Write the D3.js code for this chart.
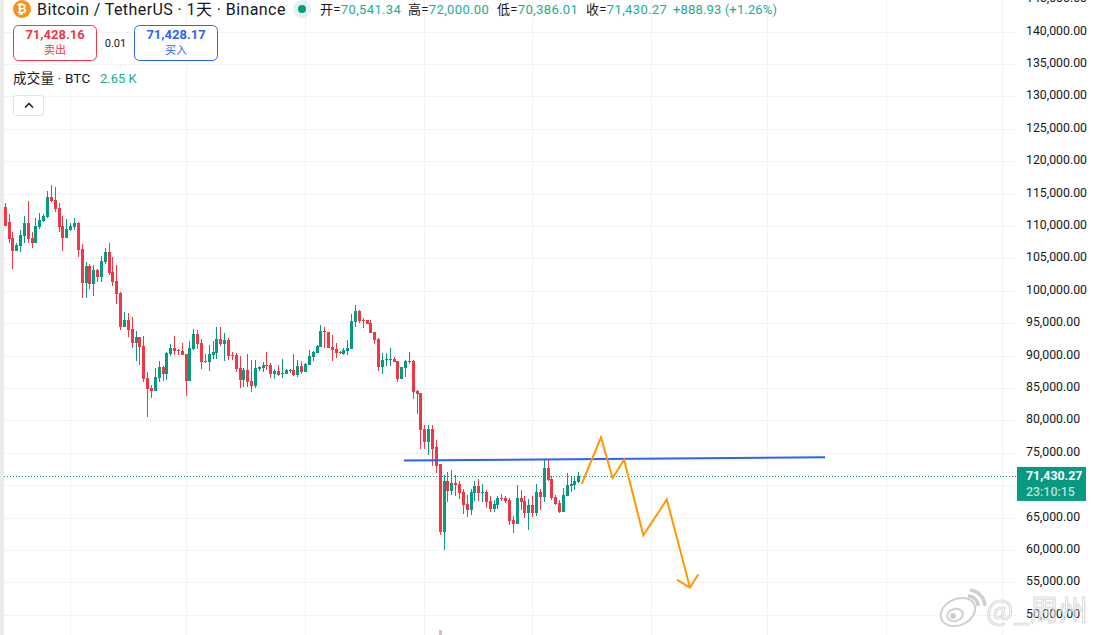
<!DOCTYPE html>
<html>
<head>
<meta charset="utf-8">
<script src="https://cdn.jsdelivr.net/npm/d3@7"></script>
<style>
  html, body { margin: 0; padding: 0; background: #fff; overflow: hidden; }
  svg { display: block; font-family: Roboto, "Noto Sans CJK SC", sans-serif; }
  .axis path { display: none; }
  .axis line { stroke: #f3f3f3; }
</style>
</head>
<body>
<div id="chart"></div>
<script>
// daily candles
var opens = [
  112950,110640,108180,106170,106940,108480,110490,108180,107400,109870,
  110790,111410,114490,114030,112800,110020,108180,109410,109870,110490,
  106480,101240,103860,101090,103240,102170,104480,106020,102940,101550,
  99700,94460,95540,94150,92000,92920,91530,86600,85060,84600,
  86600,88300,87220,90300,91230,90920,90760,90300,86140,91070,
  93380,92000,89220,89070,90150,90460,92610,91840,92460,90150,
  90150,88150,86300,87840,86140,85370,87990,88140,88610,88610,
  87220,87680,87220,87220,87630,87840,87070,88450,87530,88610,
  89840,90460,91380,93850,93690,91380,91070,90610,90300,90760,
  91070,95230,96930,95540,95540,95080,93690,92610,88300,89380,
  89380,89530,89220,86450,88140,89070,89220,84600,84290,78750,
  76740,78750,75820,73200,62770,70580,69040,70270,70120,68880,
  67040,66110,68730,69810,68730,68880,67500,66270,66880,67960,
  67960,67650,64570,63950,67960,67500,65650,66880,65650,68880,
  68110,72580,70890,68110,67190,65800,68270,69810,69960,70541.34
]
var highs = [
  113570,111870,109100,107400,109410,111560,113880,109100,111260,112030,
  111870,115420,116340,116030,113570,111560,111100,110490,111260,110640,
  107250,104480,104170,104020,103400,105400,106630,107400,105250,104020,
  99850,96770,96620,96000,93850,92920,93080,87530,85530,88150,
  89220,88450,90610,91840,93080,91070,92000,90300,92300,94150,
  94000,92610,90300,91690,92300,94460,94460,93540,92770,90610,
  90460,89990,88140,90300,89380,89380,88450,89070,90610,88910,
  87990,88610,89530,87990,87990,90300,89380,89220,88910,90920,
  90760,91690,94770,94460,93690,93230,92000,90760,91230,92460,
  96460,97850,97080,95850,95540,95540,93690,92770,90460,90460,
  91230,89840,89220,88300,89380,90610,89380,84750,84290,79360,
  79360,79360,76900,73300,71500,72020,72270,71500,70580,69350,
  68420,69350,70580,70890,70120,69190,68270,67650,68270,68580,
  68270,67960,65190,69960,69190,68270,67810,68270,70120,69350,
  73820,73820,71350,68420,67650,69500,71810,71350,71200,72000
]
var lows = [
  110020,107400,103400,106170,106020,107400,107400,106630,107400,109560,
  110640,111260,113720,112180,109100,106170,108180,109250,109410,105250,
  98930,98930,100320,99240,101400,101400,104170,102470,100780,98000,
  94000,94460,92920,91230,89220,88610,85990,80600,83520,84600,
  85990,86140,86300,89990,90150,90150,90150,83830,86140,90920,
  91070,87990,88920,87680,89530,89530,91530,89220,89380,89380,
  87530,85060,85220,85220,84450,85060,87680,87530,87840,86600,
  86450,86910,86600,87220,87370,86910,86760,87220,87530,88610,
  89220,90460,91380,91230,91230,89220,89690,90300,90150,90150,
  91070,94460,95080,94310,94920,93540,91840,87680,87220,88450,
  88450,89070,85990,86450,86760,88760,83370,81060,75660,75660,
  74590,72890,71810,62260,59950,67400,68420,68270,67810,65500,
  65030,65340,67500,67500,67340,66420,65800,65800,66270,67500,
  67190,63800,62570,63950,66110,64880,63030,65030,65190,66110,
  67340,70580,67650,66880,65650,65800,68270,68880,69190,70386.01
]
var closes = [
  110020,108020,106170,107100,108640,110490,108020,107400,110020,110950,
  111560,114490,113880,112640,109870,108180,109560,110020,110490,106330,
  101240,103860,101090,103240,102170,104630,106020,102780,101400,99550,
  94460,95540,94000,92000,92920,91380,86450,84910,84600,86760,
  88300,87220,90460,91230,90760,90760,90150,86140,91230,93380,
  91840,89070,89070,90300,90610,92610,91840,92460,89990,89990,
  87990,86300,87840,85990,85370,88140,88300,88610,88450,87220,
  87680,87070,87370,87840,87780,87070,88450,87530,88760,89990,
  90610,91530,93850,93690,91230,90920,90460,90460,90920,91230,
  95390,96930,95390,95390,94920,93540,92460,88300,89380,89530,
  89530,89070,86450,88300,89220,89220,84450,84140,78590,76740,
  78750,75660,73040,62770,70580,69040,70270,69960,68730,66880,
  66110,68880,69810,68730,68880,67340,66270,67040,67960,67810,
  67500,64420,63950,67960,67340,65650,66880,65650,68880,68110,
  72580,70730,67960,67040,65800,68420,69960,70120,70580,71430.27
]

// only the tallest volume bar pokes into the crop
var volumeIdx = [113]
var volumeVals = [68000]

// candle index of each month start (vertical grid)
var monthStarts = [17, 47, 78, 109, 137, 168, 198, 229, 259]
var priceTicks = [145000, 140000, 135000, 130000, 125000, 120000, 115000, 110000, 105000, 100000,
  95000, 90000, 85000, 80000, 75000, 65000, 60000, 55000, 50000]
var gridTicks = priceTicks.concat([70000])

// hand drawn lines on the chart, index and price
var trendIdx = [103.7, 213.1]
var trendPrice = [73810, 74320]
var arrowIdx = [149.9, 154.9, 157.9, 160.9, 165.9, 172, 178]
var arrowPrice = [70220, 77400, 71090, 73920, 62260, 67800, 54200]
var headIdx = [174.6, 178, 180.2]
var headPrice = [55430, 54200, 56250]

var lastPrice = 71430.27
var countdown = '23:10:15'

var headerPairs = [
  ['开', '70,541.34', 320],
  ['高', '72,000.00', 408],
  ['低', '70,386.01', 497],
  ['收', '71,430.27', 586]
]

var w = 1096
var h = 635
var plotRight = 1016
var red = '#f23645'
var green = '#089981'
var teal = '#22ab94'
var ink = '#131722'

var svg = d3.select('#chart').append('svg').attr('width', w).attr('height', h)

var xScale = d3.scaleLinear().domain([0, 149]).range([4.67, 578.3])
var yScale = d3.scaleLinear().domain([140000, 50000]).range([31.6, 614.8])
var volScale = d3.scaleLinear().domain([0, 68000]).range([638, 630])

// grid, built from axes with the tick text dropped
var yGrid = d3.axisLeft(yScale).tickValues(gridTicks).tickSize(plotRight - 4).tickFormat('')
svg.append('g').attr('class', 'axis').attr('transform', 'translate(' + plotRight + ',0)').call(yGrid)

var xGrid = d3.axisBottom(xScale).tickValues(monthStarts).tickSize(h).tickFormat('')
svg.append('g').attr('class', 'axis').call(xGrid)

svg.selectAll('.axis line').attr('shape-rendering', 'crispEdges')

// left edge strip
svg.append('rect').attr('width', 4).attr('height', h).attr('fill', '#ebebeb')

// last price dotted line
svg.append('line')
  .attr('x1', 4).attr('x2', plotRight)
  .attr('y1', Math.round(yScale(lastPrice)) + 0.5).attr('y2', Math.round(yScale(lastPrice)) + 0.5)
  .attr('stroke', green).attr('stroke-dasharray', '1 2')

// volume
svg.selectAll('.vol').data(volumeIdx).enter().append('rect')
  .attr('class', 'vol')
  .attr('x', d => Math.round(xScale(d)) - 1)
  .attr('width', 3)
  .attr('y', (d, i) => volScale(volumeVals[i]))
  .attr('height', (d, i) => volScale(0) - volScale(volumeVals[i]))
  .attr('fill', red).attr('opacity', 0.4)

// candles
var candles = svg.append('g').attr('shape-rendering', 'crispEdges')
  .selectAll('g').data(opens).enter().append('g')
  .attr('fill', (d, i) => closes[i] >= d ? green : red)

candles.append('rect')
  .attr('x', (d, i) => Math.round(xScale(i)))
  .attr('width', 1)
  .attr('y', (d, i) => yScale(highs[i]))
  .attr('height', (d, i) => yScale(lows[i]) - yScale(highs[i]))

candles.append('rect')
  .attr('x', (d, i) => Math.round(xScale(i)) - 1)
  .attr('width', 3)
  .attr('y', (d, i) => yScale(Math.max(d, closes[i])))
  .attr('height', (d, i) => Math.max(1, Math.abs(yScale(d) - yScale(closes[i]))))

// trend line and arrow
var line = d3.line().x(d => xScale(d[0])).y(d => yScale(d[1]))

svg.append('path').datum(d3.zip(trendIdx, trendPrice))
  .attr('d', line).attr('fill', 'none').attr('stroke', '#2962ff').attr('stroke-width', 2)

svg.append('path').datum(d3.zip(arrowIdx, arrowPrice))
  .attr('d', line).attr('fill', 'none').attr('stroke', '#ff9800').attr('stroke-width', 2)
  .attr('stroke-linejoin', 'miter')

svg.append('path').datum(d3.zip(headIdx, headPrice))
  .attr('d', line).attr('fill', 'none').attr('stroke', '#ff9800').attr('stroke-width', 2)

// price axis
var yAxis = d3.axisRight(yScale).tickValues(priceTicks).tickSize(0).tickPadding(10)
  .tickFormat(d3.format(',.2f'))
var axisG = svg.append('g').attr('class', 'axis price').attr('transform', 'translate(1016,0)').call(yAxis)
axisG.selectAll('text').attr('font-family', 'Roboto, sans-serif').attr('font-size', 12.3)
  .attr('fill', ink).attr('dy', '0.2em')

// last price tag
svg.append('rect').attr('x', 1017).attr('y', yScale(lastPrice) - 9).attr('width', 69).attr('height', 34).attr('fill', green)
svg.append('text').attr('x', 1026).attr('y', yScale(lastPrice) + 4)
  .attr('font-size', 12.4).attr('font-weight', 700).attr('fill', '#fff')
  .text(d3.format(',.2f')(lastPrice))
svg.append('text').attr('x', 1026).attr('y', yScale(lastPrice) + 20)
  .attr('font-size', 12.4).attr('font-weight', 500).attr('fill', '#b5e5da')
  .text(countdown)

// header
svg.append('circle').attr('cx', 22).attr('cy', 9).attr('r', 9).attr('fill', '#f7931a')
svg.append('text').attr('x', 22).attr('y', 13).attr('text-anchor', 'middle')
  .attr('font-size', 12).attr('font-weight', 700).attr('fill', '#fff').text('₿')
svg.append('text').attr('x', 37).attr('y', 14.5).attr('font-size', 16).attr('letter-spacing', 0.42).attr('fill', ink)
  .text('Bitcoin / TetherUS · 1天 · Binance')

svg.append('circle').attr('cx', 302).attr('cy', 9).attr('r', 9).attr('fill', '#089981').attr('opacity', 0.12)
svg.append('circle').attr('cx', 302).attr('cy', 9).attr('r', 4).attr('fill', green)

headerPairs.forEach(function(p) {
  var t = svg.append('text').attr('x', p[2]).attr('y', 14).attr('font-size', 13).attr('letter-spacing', 0.35)
  t.append('tspan').attr('fill', ink).text(p[0] + '=')
  t.append('tspan').attr('fill', teal).text(p[1])
})
svg.append('text').attr('x', 673).attr('y', 14).attr('font-size', 13).attr('letter-spacing', 0.15).attr('fill', teal)
  .text('+888.93 (+1.26%)')

// sell and buy buttons
function quoteBox(x, color, price, label) {
  svg.append('rect').attr('x', x + 0.5).attr('y', 25.5).attr('width', 83).attr('height', 35).attr('rx', 5)
    .attr('fill', '#fff').attr('stroke', color)
  svg.append('text').attr('x', x + 42).attr('y', 39).attr('text-anchor', 'middle')
    .attr('font-size', 13).attr('font-weight', 700).attr('fill', color).text(price)
  svg.append('text').attr('x', x + 42).attr('y', 54).attr('text-anchor', 'middle')
    .attr('font-size', 11).attr('fill', color).text(label)
}
quoteBox(13, red, '71,428.16', '卖出')
quoteBox(134, '#2962ff', '71,428.17', '买入')
svg.append('text').attr('x', 115.5).attr('y', 47).attr('text-anchor', 'middle').attr('font-size', 11)
  .attr('fill', ink).text('0.01')

svg.append('text').attr('x', 13).attr('y', 82.5).attr('font-size', 13.5).attr('letter-spacing', 0.2).attr('fill', ink).text('成交量 · BTC')
svg.append('text').attr('x', 100).attr('y', 82.5).attr('font-size', 13).attr('fill', teal).text('2.65 K')

svg.append('rect').attr('x', 13.5).attr('y', 95.5).attr('width', 30).attr('height', 20).attr('rx', 2)
  .attr('fill', '#fff').attr('stroke', '#e0e3eb')
svg.append('path').attr('d', 'M25 107.5 L29 103.5 L33 107.5').attr('fill', 'none').attr('stroke', ink).attr('stroke-width', 1.5)

// weibo watermark, soft edges
var defs = svg.append('defs')
defs.append('filter').attr('id', 'soft').append('feGaussianBlur').attr('stdDeviation', 0.6)

var mark = svg.append('g').attr('fill', '#fff').attr('stroke', '#d0d0d0').attr('stroke-width', 2).attr('filter', 'url(#soft)')
mark.append('ellipse').attr('cx', 958).attr('cy', 612).attr('rx', 18).attr('ry', 13).attr('transform', 'rotate(-25 958 612)')
mark.append('ellipse').attr('cx', 955).attr('cy', 615).attr('rx', 8).attr('ry', 6).attr('transform', 'rotate(-15 955 615)')
mark.append('circle').attr('cx', 953).attr('cy', 616).attr('r', 2).attr('fill', '#c4c4c4')
mark.append('path').attr('d', 'M968 596 A10 10 0 0 1 978 606').attr('fill', 'none').attr('stroke-width', 3.5)
mark.append('path').attr('d', 'M970 590 A17 17 0 0 1 985 606').attr('fill', 'none').attr('stroke-width', 3.5)
svg.append('text').attr('x', 986).attr('y', 621).attr('font-size', 29)
  .attr('font-family', '"Noto Sans CJK SC", sans-serif')
  .attr('fill', '#fff').attr('fill-opacity', 0.45)
  .attr('stroke', '#cfcfcf').attr('stroke-opacity', 0.7).attr('stroke-width', 1.2).attr('filter', 'url(#soft)')
  .text('@_周州')
</script>
</body>
</html>
